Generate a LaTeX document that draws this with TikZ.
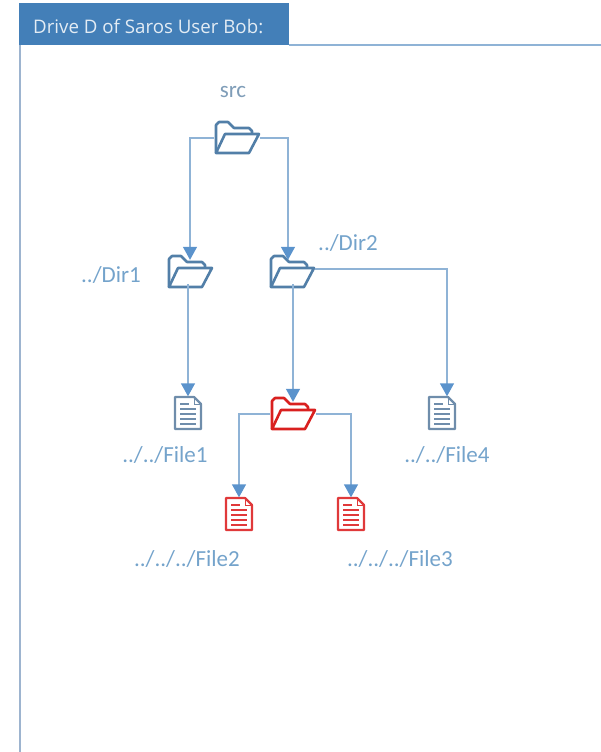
\documentclass[tikz,border=0pt]{standalone}
\usepackage{fontspec}
\setmainfont{Carlito}
\newfontfamily\titlefont{Open Sans}
\usetikzlibrary{arrows.meta}
\definecolor{tabblue}{HTML}{437FB8}
\definecolor{framegrey}{HTML}{9DB4CF}
\definecolor{linkblue}{HTML}{8FB3D6}
\definecolor{tipblue}{HTML}{5B93CC}
\definecolor{labelblue}{HTML}{74A3CB}
\definecolor{srcgrey}{HTML}{7F9DB8}
\definecolor{iconblue}{HTML}{527FA8}
\definecolor{filegrey}{HTML}{6F8DAB}
\definecolor{iconred}{HTML}{D9201F}
\definecolor{filered}{HTML}{E0393A}
\tikzset{
  folderbox/.style={minimum width=45, minimum height=24, inner sep=0},
  filebox/.style={minimum width=26, minimum height=33, inner sep=0},
  link/.style={draw=linkblue, line width=1.4, -{Triangle[length=13,width=14,color=tipblue]}},
  lbl/.style={text=labelblue, font=\fontsize{23}{26}\selectfont, inner sep=0},
  foldericon/.pic={
    \draw[line width=2.6, line join=round, pic actions]
      (-21,15) -- (-21,-13) -- (-18,-16) -- (-9,-16) -- (-3,-10) -- (12,-10) -- (15,-7) -- (15,-4);
    \draw[line width=2.6, line join=round, pic actions]
      (-21,15) -- (-12,-4) -- (22,-4) -- (12,15) -- cycle;
  },
  fileicon/.pic={
    \draw[line width=2.2, line join=round, pic actions]
      (-13,-16) -- (6,-16) -- (13,-9) -- (13,16) -- (-13,16) -- cycle;
    \draw[line width=1, pic actions] (6,-16) -- (6,-9) -- (13,-9);
    \draw[line width=1.3, pic actions] (-8,-9) -- (1,-9);
    \draw[line width=1.3, pic actions] (-8,-4) -- (8,-4);
    \draw[line width=1.3, pic actions] (-8,1) -- (8,1);
    \draw[line width=1.3, pic actions] (-8,6) -- (8,6);
    \draw[line width=1.3, pic actions] (-8,11) -- (8,11);
  }
}
\begin{document}
\begin{tikzpicture}[x=1pt,y=-1pt]
  \useasboundingbox (0,0) rectangle (601,752);
  % Frame and title
  \draw[framegrey, line width=2.6] (20,45) -- (20,752);
  \draw[linkblue, line width=1.2] (289,45) -- (601,45);
  \fill[tabblue] (19,3) rectangle (289,45);
  \node[anchor=west, text=white!85!tabblue, inner sep=0, font=\titlefont\fontsize{18.7}{22}\selectfont] (drive) at (33,26) {Drive D of Saros User Bob:};
  % Folders and files
  \node[folderbox] (src) at (237,138) {};
  \node[folderbox] (dira) at (190,272) {};
  \node[folderbox] (dirb) at (292,272) {};
  \node[folderbox] (dirc) at (293,414) {};
  \node[filebox] (filea) at (188,413) {};
  \node[filebox] (fileb) at (239,514) {};
  \node[filebox] (filec) at (351,514) {};
  \node[filebox] (filed) at (442,413) {};
  \pic[draw=iconblue] at (src) {foldericon};
  \pic[draw=iconblue] at (dira) {foldericon};
  \pic[draw=iconblue] at (dirb) {foldericon};
  \pic[draw=iconred] at (dirc) {foldericon};
  \pic[draw=filegrey] at (filea) {fileicon};
  \pic[draw=filered] at (fileb) {fileicon};
  \pic[draw=filered] at (filec) {fileicon};
  \pic[draw=filegrey] at (filed) {fileicon};
  % Links
  \draw[link] (src.west) -| (dira.north);
  \draw[link] (src.east) -| ([xshift=-4]dirb.north);
  \draw[link] ([xshift=-2]dira.south) -- (filea.north);
  \draw[link] ([xshift=1]dirb.south) -- (dirc.north);
  \draw[link] ([yshift=3]dirb.east) -| ([xshift=5]filed.north);
  \draw[link] (dirc.west) -| (fileb.north);
  \draw[link] (dirc.east) -| (filec.north);
  % Labels
  \node[lbl, text=srcgrey] (srclbl) at (233,92) {src};
  \node[lbl] (diralbl) at (111,275) {../Dir1};
  \node[lbl] (dirblbl) at (348,243) {../Dir2};
  \node[lbl] (filealbl) at (165,455) {../../File1};
  \node[lbl] (filedlbl) at (447,455) {../../File4};
  \node[lbl] (fileblbl) at (187,559) {../../../File2};
  \node[lbl] (fileclbl) at (400,559) {../../../File3};
\end{tikzpicture}
\end{document}
